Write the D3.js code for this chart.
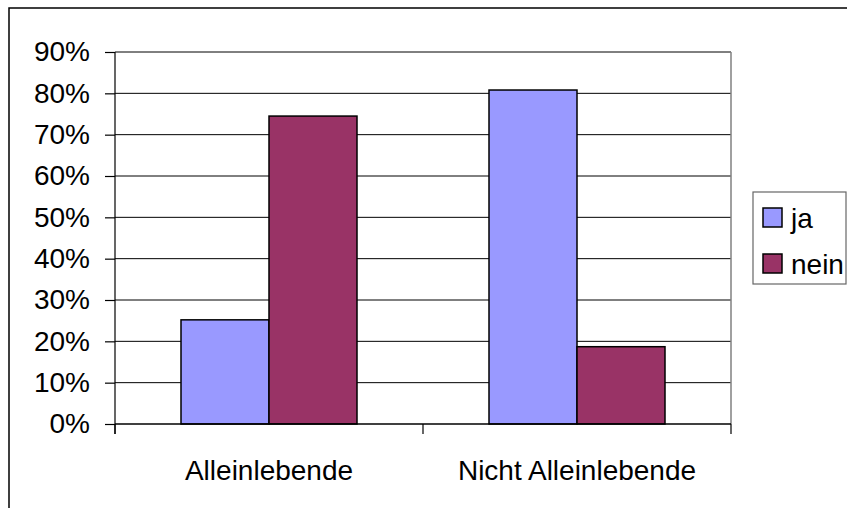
<!DOCTYPE html>
<html>
<head>
  <meta charset="utf-8">
  <style>
    body { margin: 0; background: #fff; }
    svg { display: block; font-family: "Liberation Sans", Arial, sans-serif; }
  </style>
</head>
<body>
  <script src="https://cdn.jsdelivr.net/npm/d3@7"></script>
  <script>
    // data
    var categories = ["Alleinlebende", "Nicht Alleinlebende"]
    var series = ["ja", "nein"]
    var jaValues = [25.2, 80.8]
    var neinValues = [74.5, 18.7]
    var yTicks = [0, 10, 20, 30, 40, 50, 60, 70, 80, 90]
    var colors = ["#9999ff", "#993366"]

    var w = 847
    var h = 508

    // plot area box
    var plotLeft = 115, plotRight = 731, plotTop = 52, plotBottom = 424

    var data = categories.map(function (c, i) {
      return { cat: c, values: [jaValues[i], neinValues[i]] }
    })

    var svg = d3.select("body").append("svg")
        .attr("width", w)
        .attr("height", h)

    // outer chart frame (right and bottom edges run off the picture)
    svg.append("rect")
        .attr("x", 9).attr("y", 8)
        .attr("width", 860).attr("height", 520)
        .attr("fill", "#fff")
        .attr("stroke", "#000")
        .attr("stroke-width", 1.5)

    var x = d3.scaleBand()
        .domain(categories)
        .range([plotLeft, plotRight])

    var y = d3.scaleLinear()
        .domain([0, 90])
        .range([plotBottom, plotTop])

    // bars fill 176 of 308 px per category
    var x1 = d3.scaleBand()
        .domain(series)
        .range([0, x.bandwidth()])
        .paddingOuter(66 / 88)
        .paddingInner(0)

    // gridlines
    svg.append("g")
        .selectAll("line")
        .data(yTicks.slice(1))
        .enter()
        .append("line")
        .attr("x1", plotLeft).attr("x2", plotRight)
        .attr("y1", function (d) { return y(d) })
        .attr("y2", function (d) { return y(d) })
        .attr("stroke", "#000")
        .attr("stroke-width", 1)

    // right edge of plot area
    svg.append("line")
        .attr("x1", plotRight).attr("x2", plotRight)
        .attr("y1", plotTop).attr("y2", plotBottom)
        .attr("stroke", "#808080")
        .attr("stroke-width", 1.5)

    // bars
    var groups = svg.selectAll("g.cat")
        .data(data)
        .enter()
        .append("g")
        .attr("class", "cat")
        .attr("transform", function (d) { return "translate(" + x(d.cat) + ",0)" })

    groups.selectAll("rect")
        .data(function (d) {
          return d.values.map(function (v, i) { return { s: series[i], v: v, i: i } })
        })
        .enter()
        .append("rect")
        .attr("x", function (d) { return x1(d.s) })
        .attr("y", function (d) { return y(d.v) })
        .attr("width", x1.bandwidth())
        .attr("height", function (d) { return plotBottom - y(d.v) })
        .attr("fill", function (d) { return colors[d.i] })
        .attr("stroke", "#000")
        .attr("stroke-width", 1.5)

    // y axis
    var yAxis = d3.axisLeft(y)
        .tickValues(yTicks)
        .tickFormat(function (d) { return d + "%" })
        .tickSize(10)
        .tickPadding(15)

    var gy = svg.append("g")
        .attr("transform", "translate(" + plotLeft + ",0)")
        .call(yAxis)
    gy.select(".domain").attr("stroke", "#000").attr("stroke-width", 1.2)
        .attr("d", "M0," + plotTop + "V" + (plotBottom + 10))
    gy.selectAll(".tick line").attr("stroke", "#000").attr("stroke-width", 1.2)
    gy.selectAll("text")
        .attr("font-size", 28)
        .attr("fill", "#000")
        .attr("font-family", "Liberation Sans, Arial, sans-serif")

    // x axis
    var xAxis = d3.axisBottom(x).tickSize(0).tickPadding(0)
    var gx = svg.append("g")
        .attr("transform", "translate(0," + plotBottom + ")")
        .call(xAxis)
    gx.select(".domain").attr("stroke", "#000").attr("stroke-width", 1.5)
        .attr("d", "M" + plotLeft + ",0H" + plotRight)
    gx.selectAll(".tick text")
        .attr("y", 56)
        .attr("dy", 0)
        .attr("font-size", 28)
        .attr("fill", "#000")
        .attr("font-family", "Liberation Sans, Arial, sans-serif")

    // category boundary ticks
    var bounds = [plotLeft].concat(categories.map(function (c) { return x(c) + x.bandwidth() }))
    gx.selectAll("line.bound")
        .data(bounds)
        .enter()
        .append("line")
        .attr("class", "bound")
        .attr("x1", function (d) { return d }).attr("x2", function (d) { return d })
        .attr("y1", 0).attr("y2", 10)
        .attr("stroke", "#000")
        .attr("stroke-width", 1.2)

    // legend
    var legend = svg.append("g")
    legend.append("rect")
        .attr("x", 753).attr("y", 192)
        .attr("width", 93).attr("height", 92)
        .attr("fill", "#fff")
        .attr("stroke", "#666")
        .attr("stroke-width", 1.2)

    var items = legend.selectAll("g.item")
        .data(series)
        .enter()
        .append("g")
        .attr("class", "item")
        .attr("transform", function (d, i) { return "translate(763," + (208 + i * 46) + ")" })

    items.append("rect")
        .attr("width", 19).attr("height", 19)
        .attr("fill", function (d, i) { return colors[i] })
        .attr("stroke", "#000")
        .attr("stroke-width", 1.5)

    items.append("text")
        .attr("x", 28)
        .attr("y", 20)
        .attr("font-size", 28)
        .text(function (d) { return d })
  </script>
</body>
</html>
